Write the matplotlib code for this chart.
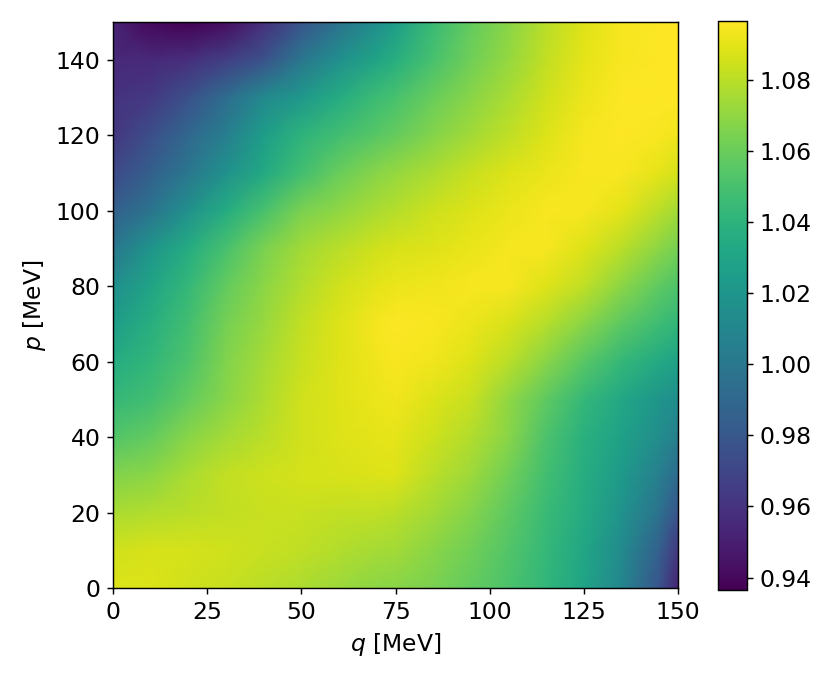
import numpy as np
import matplotlib
matplotlib.use("Agg")
import matplotlib.pyplot as plt

plt.rcParams['font.size'] = 13

q_nodes = [0, 10, 20, 30, 40, 50, 60, 70, 75, 85, 95, 105, 115, 125, 135, 145, 150]
p_nodes = [0, 10, 20, 30, 40, 50, 60, 70, 80, 90, 100, 110, 120, 130, 140, 150]

# one row per p value, columns follow q_nodes
row_p0 = [1.088, 1.088, 1.085, 1.083, 1.080, 1.077, 1.073, 1.069, 1.068, 1.064, 1.058, 1.051, 1.042, 1.030, 1.010, 0.978, 0.952]
row_p10 = [1.085, 1.087, 1.086, 1.085, 1.083, 1.081, 1.078, 1.075, 1.074, 1.068, 1.062, 1.053, 1.043, 1.031, 1.013, 0.985, 0.962]
row_p20 = [1.076, 1.078, 1.080, 1.082, 1.083, 1.083, 1.082, 1.081, 1.080, 1.074, 1.067, 1.057, 1.045, 1.034, 1.019, 0.997, 0.978]
row_p30 = [1.066, 1.069, 1.076, 1.082, 1.084, 1.086, 1.087, 1.088, 1.088, 1.080, 1.073, 1.062, 1.048, 1.036, 1.023, 1.005, 0.992]
row_p40 = [1.053, 1.058, 1.068, 1.075, 1.080, 1.085, 1.088, 1.090, 1.090, 1.084, 1.078, 1.068, 1.051, 1.038, 1.028, 1.014, 1.005]
row_p50 = [1.043, 1.048, 1.058, 1.068, 1.077, 1.085, 1.089, 1.092, 1.093, 1.088, 1.083, 1.070, 1.057, 1.043, 1.032, 1.020, 1.015]
row_p60 = [1.035, 1.042, 1.052, 1.066, 1.075, 1.083, 1.089, 1.093, 1.095, 1.093, 1.088, 1.080, 1.068, 1.055, 1.043, 1.033, 1.028]
row_p70 = [1.025, 1.037, 1.048, 1.063, 1.072, 1.082, 1.088, 1.094, 1.096, 1.095, 1.092, 1.087, 1.079, 1.068, 1.056, 1.046, 1.042]
row_p80 = [1.015, 1.030, 1.043, 1.058, 1.069, 1.078, 1.085, 1.090, 1.092, 1.093, 1.095, 1.094, 1.089, 1.081, 1.069, 1.057, 1.052]
row_p90 = [1.000, 1.020, 1.035, 1.050, 1.064, 1.074, 1.080, 1.085, 1.087, 1.089, 1.091, 1.094, 1.094, 1.089, 1.080, 1.069, 1.063]
row_p100 = [0.985, 0.998, 1.017, 1.035, 1.050, 1.064, 1.070, 1.076, 1.079, 1.084, 1.088, 1.092, 1.095, 1.094, 1.090, 1.080, 1.074]
row_p110 = [0.972, 0.985, 1.000, 1.017, 1.033, 1.048, 1.060, 1.068, 1.071, 1.077, 1.083, 1.088, 1.092, 1.095, 1.095, 1.090, 1.086]
row_p120 = [0.962, 0.975, 0.990, 1.005, 1.025, 1.040, 1.048, 1.055, 1.059, 1.067, 1.074, 1.081, 1.088, 1.094, 1.096, 1.095, 1.093]
row_p130 = [0.960, 0.963, 0.976, 0.993, 1.012, 1.022, 1.035, 1.046, 1.050, 1.060, 1.068, 1.076, 1.085, 1.092, 1.096, 1.096, 1.096]
row_p140 = [0.955, 0.955, 0.958, 0.966, 0.977, 1.000, 1.016, 1.030, 1.037, 1.050, 1.062, 1.071, 1.082, 1.090, 1.095, 1.096, 1.096]
row_p150 = [0.952, 0.940, 0.937, 0.942, 0.958, 0.978, 0.997, 1.015, 1.025, 1.045, 1.058, 1.068, 1.080, 1.089, 1.094, 1.096, 1.096]

cbar_ticks = [0.94, 0.96, 0.98, 1.00, 1.02, 1.04, 1.06, 1.08]

Z = np.array([row_p0, row_p10, row_p20, row_p30, row_p40, row_p50, row_p60, row_p70,
              row_p80, row_p90, row_p100, row_p110, row_p120, row_p130, row_p140, row_p150])
Q, P = np.meshgrid(q_nodes, p_nodes)

fig = plt.figure(figsize=(833 / 130, 678 / 130), dpi=130)
ax = fig.add_axes([113 / 833, 90 / 678, 565 / 833, 566 / 678])
cax = fig.add_axes([718 / 833, 88 / 678, 29 / 833, 569 / 678])

mesh = ax.pcolormesh(Q, P, Z, shading='gouraud', cmap='viridis', vmin=0.9365, vmax=1.0965)
ax.set_xlim(0, 150)
ax.set_ylim(0, 150)
ax.set_xticks([0, 25, 50, 75, 100, 125, 150])
ax.set_yticks([0, 20, 40, 60, 80, 100, 120, 140])
ax.set_xlabel('$q$ [MeV]')
ax.set_ylabel('$p$ [MeV]')

cb = fig.colorbar(mesh, cax=cax)
cb.set_ticks(cbar_ticks)
cb.ax.set_yticklabels([f'{t:.2f}' for t in cbar_ticks])

fig.savefig('out.png', dpi=130)
